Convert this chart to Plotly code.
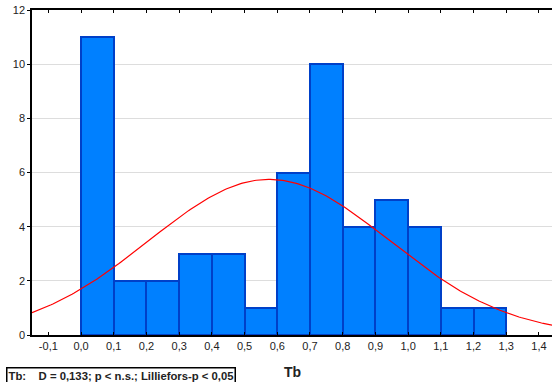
import numpy as np
import plotly.graph_objects as go

# Histogram bins (left edges) and counts
bin_left = [0.0, 0.1, 0.2, 0.3, 0.4, 0.5, 0.6, 0.7, 0.8, 0.9, 1.0, 1.1, 1.2]
counts = [11, 2, 2, 3, 3, 1, 6, 10, 4, 5, 4, 1, 1]
bin_width = 0.1

# Fitted normal curve parameters
fit_mean = 0.575
fit_sd = 0.368

x_tickvals = [-0.1, 0.0, 0.1, 0.2, 0.3, 0.4, 0.5, 0.6, 0.7, 0.8, 0.9, 1.0, 1.1, 1.2, 1.3, 1.4]
x_ticktext = ["-0,1", "0,0", "0,1", "0,2", "0,3", "0,4", "0,5", "0,6", "0,7", "0,8",
              "0,9", "1,0", "1,1", "1,2", "1,3", "1,4"]
y_tickvals = [0, 2, 4, 6, 8, 10, 12]

x_range = [-0.15, 1.44]

n_total = sum(counts)
mids = [b + bin_width / 2 for b in bin_left]

xs = np.linspace(x_range[0], x_range[1], 300)
ys = n_total * bin_width / (fit_sd * np.sqrt(2 * np.pi)) * np.exp(-0.5 * ((xs - fit_mean) / fit_sd) ** 2)

fig = go.Figure()
fig.add_trace(go.Bar(
    x=mids, y=counts, width=bin_width,
    marker=dict(color="#0080FF", line=dict(color="#0040C8", width=2)),
    showlegend=False,
))
fig.add_trace(go.Scatter(
    x=xs, y=ys, mode="lines",
    line=dict(color="#FF0000", width=1.2),
    showlegend=False,
))

font = "Liberation Sans, Arial, sans-serif"
fig.update_layout(
    width=552, height=382,
    margin=dict(l=32, r=0, t=10, b=47),
    plot_bgcolor="white", paper_bgcolor="white",
    font=dict(family=font, size=11, color="#222222"),
    bargap=0,
    xaxis=dict(
        range=x_range, tickvals=x_tickvals, ticktext=x_ticktext,
        showgrid=False, zeroline=False,
        showline=True, linecolor="black", linewidth=1.5, mirror="ticks",
        ticks="inside", ticklen=3, tickcolor="black",
        tickfont=dict(size=11, family=font, color="#222222"),
    ),
    yaxis=dict(
        range=[0, 12], tickvals=y_tickvals,
        showgrid=True, gridcolor="#DDDDDD", gridwidth=1, zeroline=False,
        showline=True, linecolor="black", linewidth=1.5,
        ticks="outside", ticklen=3, tickcolor="black",
        tickfont=dict(size=11, family=font, color="#222222"),
    ),
    annotations=[
        dict(text="<b>Tb</b>", xref="paper", yref="paper",
             x=(292 - 32) / 520, y=-(372 - 335) / 325, xanchor="center", yanchor="middle",
             showarrow=False, font=dict(size=14, family=font, color="#222222")),
        dict(text="<b>Tb:&nbsp;&nbsp;&nbsp;&nbsp;D = 0,133; p < n.s.; Lilliefors-p < 0,05</b>",
             xref="paper", yref="paper",
             x=(6 - 32) / 520, y=-(367 - 335) / 325, xanchor="left", yanchor="top",
             showarrow=False, bordercolor="black", borderwidth=1.5, borderpad=1,
             bgcolor="white", font=dict(size=11.3, family=font, color="#222222")),
    ],
)

fig.write_html("out.html")
